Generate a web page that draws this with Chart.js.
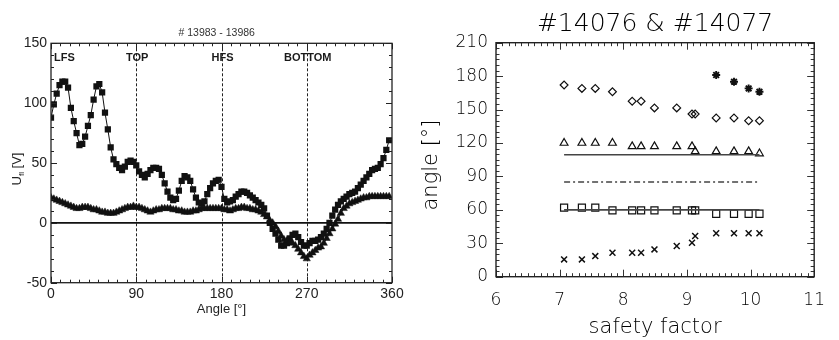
<!DOCTYPE html>
<html><head><meta charset="utf-8">
<script src="https://cdn.jsdelivr.net/npm/chart.js@4.4.0/dist/chart.umd.min.js"></script>
<style>
html,body{margin:0;padding:0;background:#fff;width:839px;height:340px;overflow:hidden}
#left{position:absolute;left:0;top:0}
#right{position:absolute;left:420px;top:0}
</style></head><body>
<canvas id="left" width="420" height="340"></canvas>
<canvas id="right" width="419" height="340"></canvas>
<script>
// ---------- Left panel data ----------
const leftTitle = '# 13983 - 13986';
const angles = [0,3,6,9,12,15,18,21,24,27,30,33,36,39,42,45,48,51,54,57,60,63,66,69,72,75,78,81,84,87,
  90,93,96,99,102,105,108,111,114,117,120,123,126,129,132,135,138,141,144,147,150,153,156,159,162,165,168,171,174,177,
  180,183,186,189,192,195,198,201,204,207,210,213,216,219,222,225,228,231,234,237,240,243,246,249,252,255,258,261,264,267,
  270,273,276,279,282,285,288,291,294,297,300,303,306,309,312,315,318,321,324,327,330,333,336,339,342,345,348,351,354,357];
const squareSeries = [88,99,108,115,118,118,113,96,85,75,65,66,72,81,90,103,114,116,109,92,
  78,63,53,49,46,44,47,51,52,51,48,43,40,38,41,44,46,46,45,40,
  33,26,21,19,20,27,35,39,38,35,28,21,17,16,18,24,29,33,35,36,
  30,20,17,18,19,22,24,26,26,25,23,21,19,17,15,12,6,0,-5,-9,
  -14,-19,-19,-17,-13,-10,-9,-12,-16,-19,-19,-17,-15,-15,-14,-12,-9,-5,0,6,
  11,15,18,20,22,24,25,26,29,32,35,38,41,44,45,46,49,54,61,69];
const triangleSeries = [21,20,19,18,17,16,15,14,13,12,12,13,13,13,12,11,11,10,9,9,
  8,8,8,9,10,11,12,13,13,14,13,13,12,11,10,9,10,11,11,12,
  12,12,12,11,11,10,10,9,9,9,10,10,11,12,12,12,12,12,12,12,
  12,11,11,10,11,12,12,13,13,12,12,11,11,10,9,7,5,2,0,-3,
  -7,-11,-14,-15,-16,-17,-19,-22,-25,-28,-30,-27,-25,-23,-21,-20,-17,-13,-9,-5,
  -1,3,8,12,14,16,17,18,19,20,21,21,22,22,22,22,22,22,22,22];
const regionAngles = [0, 90, 180, 270];
const regionLabels = ['LFS', 'TOP', 'HFS', 'BOTTOM'];
const zeroLevel = [0];
const leftXTicks = [0, 90, 180, 270, 360];
const leftYTicks = [-50, 0, 50, 100, 150];

// ---------- Right panel data ----------
const rightTitle = '#14076 & #14077';
const safetyFactor = [7.07,7.35,7.56,7.83,8.14,8.28,8.49,8.84,9.08,9.13,9.46,9.74,9.97,10.14];
const diamondAngles = [172,169,169,166,157.5,157.5,151.5,151.5,146,146,142.5,142.5,140,140];
const triangleAngles = [120,120,120,120,117,117,117,117,117,112.5,112.5,112.5,112.5,110.5];
const squareAngles = [62,62,62,59.5,59.5,59.5,59.5,59.5,59.5,59.5,56.5,56.5,56.5,56.5];
const crossAngles = [15.5,15.5,18.5,21.5,21.5,21.5,24.5,27.5,30.5,36.5,39,39,39,39];
const starSafety = [9.46,9.74,9.97,10.14];
const starAngles = [181,175,169,166];
const fitSafety = [7.07,10.14];
const upperFit = [109.5,109.5];
const middleLevel = [85,85];
const lowerFit = [60,60];
const rightXTicks = [6,7,8,9,10,11];
const rightYTicks = [0,30,60,90,120,150,180,210];

const pts = (xs, ys) => xs.map((x, i) => ({x, y: ys[i]}));

function drawFrameTicks(chart, o) {
  const {ctx, chartArea: a, scales: {x, y}} = chart;
  ctx.save();
  ctx.strokeStyle = o.color; ctx.lineWidth = o.tickWidth;
  ctx.beginPath();
  const nx = Math.round((x.max - x.min) / o.xMinor);
  for (let i = 0; i <= nx; i++) {
    const v = x.min + i * o.xMinor;
    const r = v / o.xMajor; const major = Math.abs(r - Math.round(r)) < 1e-6;
    const L = major ? o.major : o.minor;
    const px = Math.round(x.getPixelForValue(v)) + 0.5;
    ctx.moveTo(px, a.bottom); ctx.lineTo(px, a.bottom - L);
    ctx.moveTo(px, a.top); ctx.lineTo(px, a.top + L);
  }
  const ny = Math.round((y.max - y.min) / o.yMinor);
  for (let i = 0; i <= ny; i++) {
    const v = y.min + i * o.yMinor;
    const r = v / o.yMajor; const major = Math.abs(r - Math.round(r)) < 1e-6;
    const L = major ? o.major : o.minor;
    const py = Math.round(y.getPixelForValue(v)) + 0.5;
    ctx.moveTo(a.left, py); ctx.lineTo(a.left + L, py);
    ctx.moveTo(a.right, py); ctx.lineTo(a.right - L, py);
  }
  ctx.stroke();
  ctx.lineWidth = o.frameWidth; ctx.strokeStyle = o.frameColor;
  ctx.strokeRect(a.left, a.top, a.right - a.left, a.bottom - a.top);
  ctx.restore();
}

// ---------- Left chart ----------
const leftDecor = {
  id: 'leftDecor',
  beforeDatasetsDraw(chart) {
    const {ctx, chartArea: a, scales: {x, y}} = chart;
    ctx.save();
    ctx.strokeStyle = '#222'; ctx.lineWidth = 1; ctx.setLineDash([3, 2]);
    regionAngles.forEach(v => {
      if (v <= x.min) return;
      const px = Math.round(x.getPixelForValue(v)) + 0.5;
      ctx.beginPath(); ctx.moveTo(px, a.top); ctx.lineTo(px, a.bottom); ctx.stroke();
    });
    ctx.setLineDash([]);
    ctx.strokeStyle = '#111'; ctx.lineWidth = 1.6;
    zeroLevel.forEach(v => {
      const py = y.getPixelForValue(v);
      ctx.beginPath(); ctx.moveTo(a.left, py); ctx.lineTo(a.right, py); ctx.stroke();
    });
    ctx.restore();
  },
  afterDraw(chart) {
    const {ctx, scales: {x}} = chart;
    drawFrameTicks(chart, {color: '#222', tickWidth: 1, frameColor: '#222', frameWidth: 1.3,
      xMinor: 10, xMajor: 90, yMinor: 10, yMajor: 50, major: 6, minor: 3});
    ctx.save();
    ctx.fillStyle = '#1a1a1a';
    ctx.font = 'bold 11px "Liberation Sans", Arial, sans-serif';
    ctx.textBaseline = 'middle';
    regionLabels.forEach((t, i) => {
      const px = x.getPixelForValue(regionAngles[i]);
      if (regionAngles[i] <= x.min) { ctx.textAlign = 'left'; ctx.fillText(t, px + 3, 58); }
      else { ctx.textAlign = 'center'; ctx.fillText(t, px + 1, 58); }
    });
    // y axis title U_fl [V]
    ctx.translate(16, 169);
    ctx.rotate(-Math.PI / 2);
    const big = '13px "Liberation Sans", Arial, sans-serif';
    const small = '8px "Liberation Sans", Arial, sans-serif';
    ctx.font = big; const wU = ctx.measureText('U').width; const wV = ctx.measureText(' [V]').width;
    ctx.font = small; const wS = ctx.measureText('fl').width;
    let sx = -(wU + wS + wV) / 2;
    ctx.textAlign = 'left'; ctx.textBaseline = 'alphabetic';
    ctx.fillStyle = '#222';
    ctx.font = big; ctx.fillText('U', sx, 5); sx += wU;
    ctx.font = small; ctx.fillText('fl', sx, 8); sx += wS;
    ctx.font = big; ctx.fillText(' [V]', sx, 5);
    ctx.restore();
  }
};

new Chart(document.getElementById('left'), {
  type: 'scatter',
  data: {
    datasets: [
      {data: pts(angles, triangleSeries), showLine: true, borderColor: '#111', borderWidth: 1,
        pointStyle: 'triangle', pointRadius: 4.2, pointBackgroundColor: '#111', pointBorderColor: '#111', pointBorderWidth: 0.5},
      {data: pts(angles, squareSeries), showLine: true, borderColor: '#111', borderWidth: 1,
        pointStyle: 'rect', pointRadius: 4.4, pointBackgroundColor: '#111', pointBorderColor: '#111', pointBorderWidth: 0}
    ]
  },
  options: {
    responsive: false, animation: false, events: [],
    layout: {padding: {left: 13.4, right: 0, top: 0, bottom: 0}},
    plugins: {
      legend: {display: false}, tooltip: {enabled: false},
      title: {display: true, text: leftTitle, color: '#333',
        font: {family: '"Liberation Sans", Arial, sans-serif', size: 10.5, weight: 'normal', lineHeight: 1},
        padding: {top: 27.75, bottom: 5.05}}
    },
    scales: {
      x: {type: 'linear', min: 0, max: 360,
        afterBuildTicks: s => { s.ticks = leftXTicks.map(v => ({value: v})); },
        afterFit: s => { s.height = 57.3; },
        grid: {display: false, drawTicks: false}, border: {display: false},
        ticks: {color: '#222', padding: 3.5, maxRotation: 0, autoSkip: false,
          font: {family: '"Liberation Sans", Arial, sans-serif', size: 14}},
        title: {display: true, text: 'Angle [°]', color: '#222',
          font: {family: '"Liberation Sans", Arial, sans-serif', size: 13, lineHeight: 1.2},
          padding: {top: 0, bottom: 23.2}}
      },
      y: {type: 'linear', min: -50, max: 150,
        afterBuildTicks: s => { s.ticks = leftYTicks.map(v => ({value: v})); },
        afterFit: s => { s.width = 37.6; },
        grid: {display: false, drawTicks: false}, border: {display: false},
        ticks: {color: '#222', padding: 4, autoSkip: false,
          font: {family: '"Liberation Sans", Arial, sans-serif', size: 14}}
      },
      ySpace: {type: 'linear', position: 'right', display: true, min: -50, max: 150,
        afterFit: s => { s.width = 28; },
        grid: {display: false, drawTicks: false}, border: {display: false},
        ticks: {display: false}}
    }
  },
  plugins: [leftDecor]
});

// ---------- Right chart ----------
const rightFont = '"DejaVu Sans", sans-serif';
const rightDecor = {
  id: 'rightDecor',
  afterDraw(chart) {
    const {ctx} = chart;
    drawFrameTicks(chart, {color: '#333', tickWidth: 1, frameColor: '#222', frameWidth: 1.4,
      xMinor: 0.1, xMajor: 1, yMinor: 5, yMajor: 30, major: 7, minor: 3.5});
    ctx.save();
    ctx.translate(12, 165);
    ctx.rotate(-Math.PI / 2);
    ctx.fillStyle = '#000';
    ctx.font = '200 21px ' + rightFont;
    ctx.textAlign = 'center'; ctx.textBaseline = 'middle';
    ctx.fillText('angle [°]', 0, 0);
    ctx.restore();
  }
};

const marker = (style, r, w) => ({showLine: false, pointStyle: style, pointRadius: r,
  pointBorderColor: '#111', pointBackgroundColor: 'rgba(0,0,0,0)', pointBorderWidth: w});

new Chart(document.getElementById('right'), {
  type: 'scatter',
  data: {
    datasets: [
      {data: pts(fitSafety, upperFit), showLine: true, borderColor: '#444', borderWidth: 1.6, pointRadius: 0},
      {data: pts(fitSafety, middleLevel), showLine: true, borderColor: '#444', borderWidth: 1.3, borderDash: [6, 3, 2, 3], pointRadius: 0},
      {data: pts(fitSafety, lowerFit), showLine: true, borderColor: '#444', borderWidth: 1.6, pointRadius: 0},
      Object.assign({data: pts(safetyFactor, diamondAngles)}, marker('rectRot', 3.9, 1.2)),
      Object.assign({data: pts(safetyFactor, triangleAngles)}, marker('triangle', 4.5, 1.2)),
      Object.assign({data: pts(safetyFactor, squareAngles)}, marker('rect', 5.0, 1.2)),
      Object.assign({data: pts(safetyFactor, crossAngles)}, marker('crossRot', 4.2, 1.5)),
      Object.assign({data: pts(starSafety, starAngles)}, marker('star', 4.0, 1.9))
    ]
  },
  options: {
    responsive: false, animation: false, events: [],
    layout: {padding: {left: 0, right: 9.7, top: 0, bottom: 0}},
    plugins: {
      legend: {display: false}, tooltip: {enabled: false},
      title: {display: true, fullSize: false, text: rightTitle, color: '#000',
        font: {family: rightFont, size: 25, weight: '200', lineHeight: 1},
        padding: {top: 11.5, bottom: 6.2}}
    },
    scales: {
      x: {type: 'linear', min: 6, max: 11,
        afterBuildTicks: s => { s.ticks = rightXTicks.map(v => ({value: v})); },
        afterFit: s => { s.height = 63.3; },
        grid: {display: false, drawTicks: false}, border: {display: false},
        ticks: {color: '#000', padding: 14, maxRotation: 0, autoSkip: false,
          font: {family: rightFont, size: 17, weight: '200'}},
        title: {display: true, text: 'safety factor', color: '#000',
          font: {family: rightFont, size: 21, weight: '200', lineHeight: 1},
          padding: {top: 0, bottom: 1.5}}
      },
      y: {type: 'linear', min: 0, max: 210,
        afterBuildTicks: s => { s.ticks = rightYTicks.map(v => ({value: v})); },
        afterFit: s => { s.width = 76; },
        grid: {display: false, drawTicks: false}, border: {display: false},
        ticks: {color: '#000', padding: 8, autoSkip: false,
          font: {family: rightFont, size: 17, weight: '200'}}
      }
    }
  },
  plugins: [rightDecor]
});
</script>
</body></html>
